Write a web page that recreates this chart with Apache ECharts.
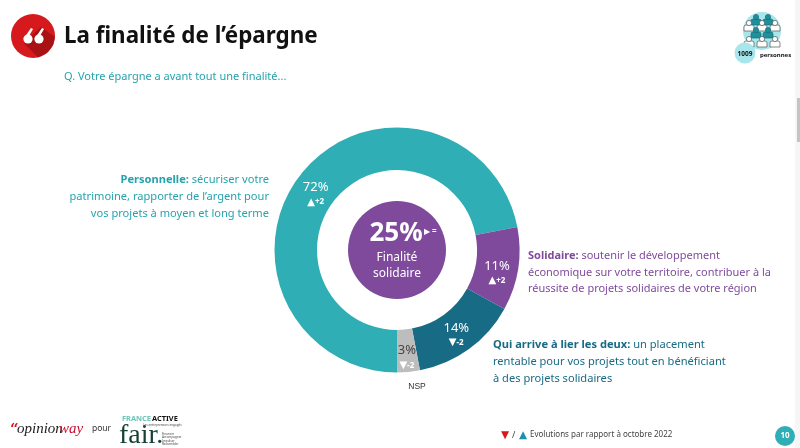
<!DOCTYPE html>
<html>
<head>
<meta charset="utf-8">
<style>
  html, body { margin: 0; padding: 0; background: #fff; overflow: hidden; }
  #chart { width: 800px; height: 448px; }
</style>
<script src="https://cdn.jsdelivr.net/npm/echarts@6/dist/echarts.min.js"></script>
</head>
<body>
<div id="chart"></div>
<script>
const categories = ['Personnelle', 'Solidaire', 'Qui arrive à lier les deux', 'NSP'];
const values = [72, 11, 14, 3];
const evolutionMarks = ['▲', '▲', '▼', '▼'];
const evolutions = ['+2', '+2', '-2', '-2'];
const colors = ['#30aeb5', '#7f4a9c', '#186b84', '#bdbdbd'];
const centerValue = ['25%'];
const centerLabel = ['Finalité', 'solidaire'];

const FONT = '"Noto Sans", sans-serif';
const TEAL = '#27a3ad';
const labelNudge = [[-1, 10], [-3, 6], [-2, 0], [0, 3]];

const chart = echarts.init(document.getElementById('chart'), null, { renderer: 'canvas' });

const text = (x, y, value, size, fill, extra = {}) => ({
  type: 'text',
  x,
  y,
  style: { text: value, fontFamily: FONT, fontSize: size, fill, textVerticalAlign: 'middle', ...extra },
});

// description blocks: a bold lead then plain lines
const block = (x, lines, color, align, size = 11.1) => lines.map(([y, lead, rest]) => ({
  type: 'text',
  x,
  y,
  style: {
    text: (lead ? `{b|${lead}}` : '') + rest,
    fontFamily: FONT,
    fontSize: size,
    fill: color,
    align,
    textVerticalAlign: 'middle',
    rich: { b: { fontFamily: FONT, fontSize: size, fontWeight: 'bold', fill: color } },
  },
}));

// one small figure of the sample size icon
const person = (x, y, fill, stroke) => [
  { type: 'rect', shape: { x: x - 5, y: y + 2, width: 10, height: 6, r: [2, 2, 0, 0] }, style: { fill, stroke, lineWidth: 0.7 } },
  { type: 'circle', shape: { cx: x, cy: y, r: 2.6 }, style: { fill, stroke, lineWidth: 0.7 } },
];

const quote = (x, y) => [
  { type: 'circle', shape: { cx: x, cy: y, r: 4.6 }, style: { fill: '#fff' } },
  { type: 'polygon', shape: { points: [[x - 4.6, y], [x + 3, y - 11], [x + 5, y - 10], [x + 1, y - 3]] }, style: { fill: '#fff' } },
];

const graphics = [
  // scrollbar of the captured slide
  { type: 'rect', shape: { x: 795, y: 0, width: 5, height: 448 }, style: { fill: '#f6f6f6' } },
  { type: 'rect', shape: { x: 797, y: 98, width: 3, height: 44 }, style: { fill: '#c4c4c4' } },

  // title badge
  { type: 'circle', shape: { cx: 33, cy: 36, r: 22 }, style: { fill: '#d5191d' } },
  { type: 'polygon', shape: { points: [[41, 27], [54.9, 37], [53, 45], [47, 53], [38, 57.4], [24, 43]] }, style: { fill: '#a81214' } },
  ...quote(28, 39),
  ...quote(39, 39),
  text(64, 37, 'La finalité de l’épargne', 22.4, '#111', { fontWeight: 'bold' }),
  text(64, 77, 'Q. Votre épargne a avant tout une finalité...', 11, TEAL),

  // sample size badge
  { type: 'circle', shape: { cx: 762, cy: 31, r: 19 }, style: { fill: '#a7e6ea' } },
  ...person(756, 17, '#1f8f9b', '#14707b'),
  ...person(768, 17, '#1f8f9b', '#14707b'),
  ...person(749, 23, '#fff', '#555'),
  ...person(762, 23, '#fff', '#555'),
  ...person(775, 23, '#fff', '#555'),
  ...person(756, 30, '#1f8f9b', '#14707b'),
  ...person(768, 30, '#1f8f9b', '#14707b'),
  ...person(749, 39, '#fff', '#555'),
  ...person(762, 39, '#fff', '#555'),
  ...person(775, 39, '#fff', '#555'),
  { type: 'circle', shape: { cx: 745, cy: 53, r: 10.5 }, style: { fill: '#a7e6ea' } },
  text(745, 54, '1009', 6.5, '#111', { align: 'center', fontWeight: 'bold' }),
  text(760, 55, 'personnes', 6, '#111', { fontWeight: 'bold' }),

  // centre of the ring
  text(396, 234, centerValue[0], 26, '#fff', { align: 'center', fontWeight: 'bold' }),
  text(424, 232, '▶', 8, '#fff', { fontFamily: 'DejaVu Sans' }),
  text(432, 232, '=', 8, '#fff', { fontWeight: 'bold' }),
  text(397, 258, centerLabel[0], 12, '#fff', { align: 'center' }),
  text(397, 274, centerLabel[1], 12, '#fff', { align: 'center' }),

  // descriptions
  ...block(269, [
    [180, 'Personnelle:', ' sécuriser votre'],
    [197, '', 'patrimoine, rapporter de l’argent pour'],
    [214, '', 'vos projets à moyen et long terme'],
  ], TEAL, 'right'),
  ...block(528, [
    [256, 'Solidaire:', ' soutenir le développement'],
    [273, '', 'économique sur votre territoire, contribuer à la'],
    [289, '', 'réussite de projets solidaires de votre région'],
  ], '#7f4a9c', 'left', 10.97),
  ...block(493, [
    [345, 'Qui arrive à lier les deux:', ' un placement'],
    [362, '', 'rentable pour vos projets tout en bénéficiant'],
    [379, '', 'à des projets solidaires'],
  ], '#186b84', 'left'),
  text(417, 387, categories[3], 8.5, '#333', { align: 'center', fontFamily: 'Liberation Sans' }),

  // footer logos
  text(10, 430, '“', 15, '#d5191d', { fontWeight: 'bold', fontFamily: 'DejaVu Serif' }),
  text(17, 429, 'opinion', 15, '#222', { fontFamily: 'Liberation Serif', fontStyle: 'italic' }),
  text(59, 429, 'way', 15, '#c8102e', { fontFamily: 'Liberation Serif', fontStyle: 'italic' }),
  text(92, 429, 'pour', 8.5, '#333'),
  text(122, 419, 'FRANCE', 7.4, '#6cc5b5', { fontWeight: 'bold' }),
  text(152, 419, 'ACTIVE', 7.4, '#111', { fontWeight: 'bold' }),
  text(143, 425, 'Les entrepreneurs engagés', 3, '#444'),
  text(119, 436, 'fair.', 28, '#173f35', { fontFamily: 'Liberation Serif' }),
  text(162, 434, 'Financer', 3, '#444'),
  text(162, 437.5, 'Accompagner', 3, '#444'),
  text(162, 441, 'Impulser', 3, '#444'),
  text(162, 444.5, 'Rassembler', 3, '#444'),

  // footer legend and page number
  text(501, 435, '▼', 10.5, '#d5191d', { fontFamily: 'DejaVu Sans' }),
  text(512, 435, '/', 9, '#444'),
  text(519, 435, '▲', 10.5, '#1f8fb0', { fontFamily: 'DejaVu Sans' }),
  text(530, 435, 'Evolutions par rapport à octobre 2022', 8, '#444'),
  { type: 'circle', shape: { cx: 785, cy: 436, r: 10 }, style: { fill: '#30aeb5' } },
  text(785, 436, '10', 8, '#fff', { align: 'center', fontWeight: 'bold' }),
].map((el) => ({ ...el, z: 100 }));

const labelRich = (valueColor) => ({
  v: { color: valueColor, fontSize: 13, fontFamily: FONT, lineHeight: 17 },
  t: { color: '#fff', fontSize: 10, fontFamily: 'DejaVu Sans', lineHeight: 12 },
  e: { color: '#fff', fontSize: 8, fontWeight: 'bold', fontFamily: FONT, lineHeight: 12 },
});

const option = {
  animation: false,
  series: [
    {
      type: 'pie',
      center: [397, 250],
      radius: [80, 122.5],
      startAngle: 270,
      clockwise: true,
      silent: true,
      data: categories.map((name, i) => ({
        name,
        value: values[i],
        itemStyle: { color: colors[i] },
        label: { rich: labelRich(i === 3 ? '#444' : '#fff') },
      })),
      label: {
        position: 'inside',
        formatter: (p) => `{v|${p.value}%}\n{t|${evolutionMarks[p.dataIndex]}}{e|${evolutions[p.dataIndex]}}`,
      },
      labelLayout: (p) => ({ dx: labelNudge[p.dataIndex][0], dy: labelNudge[p.dataIndex][1] }),
      labelLine: { show: false },
    },
    {
      type: 'pie',
      center: [397, 250],
      radius: [0, 49],
      silent: true,
      data: [{ value: 25, name: 'Finalité solidaire', itemStyle: { color: '#7f4a9c' } }],
      label: { show: false },
    },
  ],
  graphic: graphics,
};

chart.setOption(option);
</script>
</body>
</html>
